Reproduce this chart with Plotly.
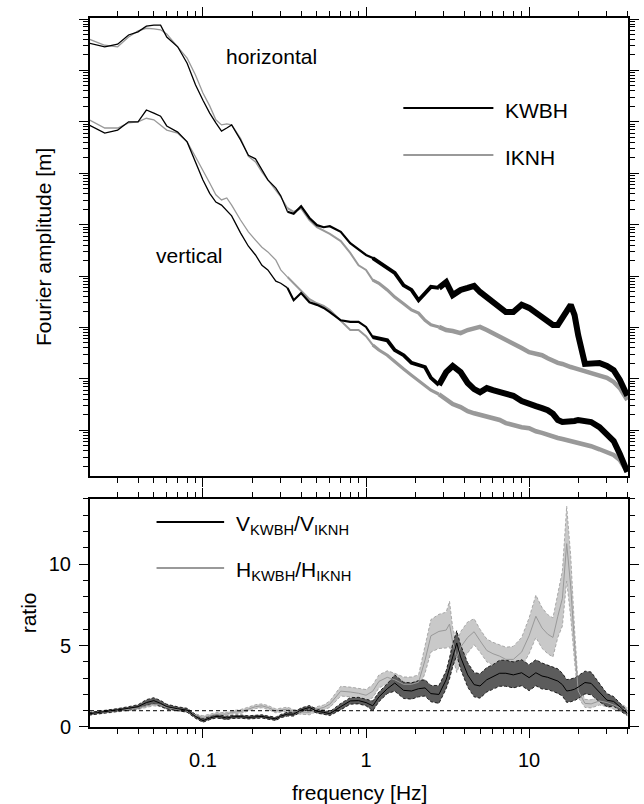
import numpy as np
import plotly.graph_objects as go

# ---------------- data ----------------
# frequency grid for the spectra [Hz]
freq = [0.02, 0.025, 0.03, 0.035, 0.04, 0.045, 0.05, 0.055, 0.06, 0.07, 0.08, 0.09,
        0.1, 0.11, 0.12, 0.13, 0.14, 0.15, 0.17, 0.19, 0.21, 0.23, 0.25, 0.28, 0.3, 0.33,
        0.36, 0.4, 0.45, 0.5, 0.55, 0.6, 0.7, 0.8, 0.9,
        1.0, 1.1, 1.2, 1.35, 1.5, 1.7, 1.9, 2.1, 2.3, 2.5, 2.8, 3.1, 3.4, 3.8, 4.2, 4.6,
        5.0, 5.5, 6.0, 6.6, 7.2, 8.0, 9.0,
        10, 11, 12, 13, 14, 15, 16, 17, 18, 19, 20, 22, 24, 27, 30, 33, 36, 40]

# log10 Fourier amplitude [m]
h_kwbh_log10 = [-1.47, -1.54, -1.49, -1.31, -1.25, -1.14, -1.12, -1.12, -1.35, -1.54, -1.86, -2.28,
                -2.58, -2.83, -3.02, -3.18, -3.12, -3.06, -3.35, -3.65, -3.72, -3.94, -4.13, -4.29,
                -4.44, -4.75, -4.79, -4.64, -4.87, -5.01, -5.05, -5.03, -5.14, -5.36, -5.49,
                -5.59, -5.65, -5.73, -5.84, -5.94, -6.18, -6.27, -6.47, -6.33, -6.21, -6.23, -6.12,
                -6.37, -6.27, -6.23, -6.19, -6.31, -6.41, -6.51, -6.58, -6.70, -6.70, -6.56,
                -6.62, -6.72, -6.82, -6.88, -6.95, -6.95, -6.82, -6.66, -6.56, -6.76, -7.15, -7.71,
                -7.71, -7.69, -7.75, -7.83, -8.02, -8.33]
h_iknh_log10 = [-1.39, -1.51, -1.54, -1.35, -1.23, -1.18, -1.19, -1.21, -1.29, -1.54, -1.76, -2.09,
                -2.44, -2.69, -2.96, -3.06, -3.04, -3.06, -3.32, -3.67, -3.78, -3.98, -4.13, -4.33,
                -4.46, -4.68, -4.75, -4.68, -4.91, -5.05, -5.12, -5.18, -5.32, -5.55, -5.79,
                -5.88, -6.08, -6.14, -6.27, -6.41, -6.54, -6.66, -6.72, -6.86, -6.95, -6.99, -7.05,
                -7.07, -7.11, -7.05, -7.01, -6.99, -7.05, -7.11, -7.17, -7.25, -7.30, -7.40,
                -7.48, -7.50, -7.54, -7.60, -7.65, -7.69, -7.71, -7.75, -7.77, -7.79, -7.81, -7.85,
                -7.87, -7.93, -7.98, -8.06, -8.18, -8.41]
v_kwbh_log10 = [-3.06, -3.22, -3.16, -3.00, -3.00, -2.77, -2.83, -2.89, -3.08, -3.20, -3.39, -3.80,
                -4.13, -4.39, -4.56, -4.62, -4.72, -4.83, -5.16, -5.42, -5.59, -5.79, -5.88, -6.10,
                -6.14, -6.23, -6.47, -6.33, -6.51, -6.56, -6.62, -6.70, -6.86, -6.89, -6.89,
                -6.99, -7.19, -7.21, -7.25, -7.44, -7.54, -7.69, -7.73, -7.77, -7.98, -8.12, -7.87,
                -7.75, -7.87, -8.08, -8.20, -8.26, -8.18, -8.22, -8.26, -8.28, -8.33, -8.43,
                -8.47, -8.53, -8.57, -8.61, -8.68, -8.80, -8.84, -8.84, -8.84, -8.82, -8.80, -8.82,
                -8.84, -8.94, -9.07, -9.21, -9.46, -9.81]
v_iknh_log10 = [-2.96, -3.12, -3.12, -3.02, -3.00, -2.93, -2.96, -3.06, -3.16, -3.22, -3.39, -3.68,
                -3.94, -4.19, -4.42, -4.52, -4.48, -4.62, -4.91, -5.14, -5.30, -5.44, -5.53, -5.69,
                -5.88, -6.02, -6.14, -6.27, -6.45, -6.53, -6.58, -6.66, -6.86, -7.05, -7.05,
                -7.17, -7.34, -7.44, -7.54, -7.67, -7.81, -7.93, -8.04, -8.14, -8.22, -8.30, -8.39,
                -8.49, -8.55, -8.63, -8.67, -8.70, -8.74, -8.76, -8.80, -8.86, -8.90, -8.94,
                -8.96, -9.02, -9.05, -9.09, -9.13, -9.15, -9.17, -9.19, -9.21, -9.23, -9.25, -9.27,
                -9.31, -9.37, -9.42, -9.48, -9.58, -9.81]

# frequency grid for the spectral ratios [Hz]
freq_ratio = [0.02, 0.025, 0.03, 0.035, 0.04, 0.045, 0.05, 0.055, 0.06, 0.07, 0.08, 0.09,
              0.1, 0.11, 0.12, 0.13, 0.14, 0.15, 0.17, 0.19, 0.21, 0.23, 0.25, 0.28, 0.3, 0.33,
              0.36, 0.4, 0.45, 0.5, 0.55, 0.6, 0.7, 0.8, 0.9,
              1.0, 1.1, 1.2, 1.35, 1.5, 1.7, 1.9, 2.1, 2.3, 2.5, 2.8, 3.1, 3.25, 3.4, 3.6, 3.8,
              4.2, 4.6, 5.0, 5.5, 6.0, 6.6, 7.2, 8.0, 9.0,
              10, 11, 12, 13, 14, 15, 16, 17, 18, 19, 20, 22, 24, 27, 30, 33, 36, 40]
ratio_v = [0.81, 0.92, 1.05, 1.15, 1.25, 1.5, 1.62, 1.45, 1.25, 1.12, 1.03, 0.65,
           0.39, 0.55, 0.65, 0.62, 0.55, 0.62, 0.64, 0.59, 0.62, 0.65, 0.58, 0.5, 0.67, 0.79,
           0.79, 1.05, 1.2, 0.97, 0.9, 0.82, 1.25, 1.6, 1.62,
           1.5, 1.3, 1.85, 2.35, 2.7, 2.25, 2.21, 2.35, 2.4, 2.05, 2.0, 2.9, 3.6, 4.4, 5.16, 4.3,
           3.2, 2.6, 2.52, 2.9, 3.08, 3.3, 3.3, 3.2, 3.33,
           3.03, 3.33, 3.13, 3.05, 2.95, 2.82, 2.6, 2.21, 2.25, 2.32, 2.45, 2.73, 2.68, 2.1,
           1.65, 1.57, 1.25, 0.85]
ratio_v_std = [0.08, 0.08, 0.08, 0.1, 0.12, 0.18, 0.18, 0.18, 0.15, 0.12, 0.12, 0.12,
               0.1, 0.1, 0.1, 0.1, 0.1, 0.1, 0.1, 0.1, 0.1, 0.1, 0.1, 0.1, 0.1, 0.12,
               0.12, 0.12, 0.12, 0.12, 0.12, 0.12, 0.2, 0.2, 0.2,
               0.2, 0.3, 0.3, 0.3, 0.5, 0.5, 0.5, 0.5, 0.5, 0.5, 0.55, 0.55, 0.65, 0.7, 0.75, 0.75,
               0.75, 0.75, 0.75, 0.75, 0.75, 0.8, 0.8, 0.8, 0.8,
               0.8, 0.8, 0.8, 0.75, 0.75, 0.75, 0.7, 0.7, 0.7, 0.7, 0.7, 0.7, 0.7, 0.55,
               0.4, 0.3, 0.25, 0.15]
ratio_h = [0.81, 0.92, 1.02, 1.1, 1.15, 1.3, 1.4, 1.35, 1.2, 1.08, 0.98, 0.72,
           0.59, 0.69, 0.78, 0.79, 0.79, 0.9, 0.95, 1.1, 1.25, 1.3, 1.2, 0.99, 1.05, 1.1,
           0.95, 0.92, 0.9, 1.1, 1.2, 1.4, 2.2, 2.15, 2.07,
           1.95, 2.2, 2.8, 3.05, 2.9, 2.62, 2.62, 2.75, 4.1, 5.6, 5.87, 5.95, 6.32, 5.2, 4.25, 4.9,
           5.5, 5.85, 5.3, 4.7, 4.5, 4.35, 4.15, 4.15, 4.6,
           5.6, 6.8, 6.08, 5.7, 5.5, 6.8, 7.9, 11.26, 8.6, 5.0, 2.21, 1.45, 1.42, 1.6,
           1.5, 1.35, 1.2, 1.0]
ratio_h_std = [0.08, 0.08, 0.08, 0.08, 0.08, 0.1, 0.1, 0.1, 0.08, 0.08, 0.08, 0.08,
               0.1, 0.1, 0.1, 0.1, 0.1, 0.1, 0.12, 0.12, 0.12, 0.12, 0.12, 0.12, 0.12, 0.12,
               0.12, 0.15, 0.15, 0.15, 0.15, 0.2, 0.3, 0.3, 0.3,
               0.35, 0.4, 0.4, 0.4, 0.4, 0.45, 0.45, 0.45, 0.8, 1.0, 1.05, 1.1, 1.4, 0.9, 0.9, 0.95,
               0.95, 0.8, 0.7, 0.7, 0.7, 0.7, 0.75, 0.8, 0.9,
               1.1, 1.3, 1.25, 1.2, 1.2, 1.3, 1.7, 2.3, 1.9, 1.0, 0.4, 0.25, 0.25, 0.25,
               0.25, 0.25, 0.25, 0.2]

x_major = [0.1, 1, 10]
x_major_text = ["0.1", "1", "10"]
ratio_major = [0, 5, 10]
ratio_major_text = ["0", "5", "10"]
legend_top = ["KWBH", "IKNH"]
legend_bottom = ["V<sub>KWBH</sub>/V<sub>IKNH</sub>", "H<sub>KWBH</sub>/H<sub>IKNH</sub>"]

# ---------------- styling ----------------
FONT = "Liberation Sans, Arial, Helvetica, sans-serif"
BLACK = "#000000"
GRAY = "#999999"
DARK_BAND = "#5c5c5c"
LIGHT_BAND = "#c9c9c9"

seg_edges = [0.35, 1.2, 3.0]
widths_black = [1.3, 2.2, 3.8, 6.0]
widths_gray = [1.3, 2.0, 3.2, 4.5]

fig = go.Figure()


def add_spectrum(f, logamp, color, widths):
    amp = [10 ** v for v in logamp]
    bounds = [0.0] + seg_edges + [1e9]
    for k in range(len(bounds) - 1):
        lo, hi = bounds[k], bounds[k + 1]
        idx = [i for i, v in enumerate(f) if lo <= v <= hi]
        if not idx:
            continue
        if idx[0] > 0:
            idx = [idx[0] - 1] + idx
        fig.add_trace(go.Scatter(x=[f[i] for i in idx], y=[amp[i] for i in idx],
                                 mode="lines", line=dict(color=color, width=widths[k]),
                                 xaxis="x", yaxis="y", showlegend=False, hoverinfo="skip"))


add_spectrum(freq, h_iknh_log10, GRAY, widths_gray)
add_spectrum(freq, v_iknh_log10, GRAY, widths_gray)
add_spectrum(freq, h_kwbh_log10, BLACK, widths_black)
add_spectrum(freq, v_kwbh_log10, BLACK, widths_black)


def add_band(f, mid, sd, fill, edge, line, lw):
    up = [m + s for m, s in zip(mid, sd)]
    lo = [max(m - s, 0) for m, s in zip(mid, sd)]
    fig.add_trace(go.Scatter(x=list(f) + list(f[::-1]), y=up + lo[::-1], fill="toself",
                             fillcolor=fill, line=dict(width=0), mode="lines",
                             xaxis="x2", yaxis="y2", showlegend=False, hoverinfo="skip"))
    for arr in (up, lo):
        fig.add_trace(go.Scatter(x=f, y=arr, mode="lines",
                                 line=dict(color=edge, width=0.8, dash="3px,2px"),
                                 xaxis="x2", yaxis="y2", showlegend=False, hoverinfo="skip"))
    return dict(x=f, y=mid, mode="lines", line=dict(color=line, width=lw),
                xaxis="x2", yaxis="y2", showlegend=False, hoverinfo="skip")


h_line = add_band(freq_ratio, ratio_h, ratio_h_std, LIGHT_BAND, GRAY, GRAY, 1.0)
v_line = add_band(freq_ratio, ratio_v, ratio_v_std, DARK_BAND, BLACK, BLACK, 1.0)
fig.add_trace(go.Scatter(**h_line))
fig.add_trace(go.Scatter(**v_line))

# ---------------- axes ----------------
x_range = [np.log10(0.0203), np.log10(40.4)]
x_minor = [m * 10.0 ** e for e in range(-2, 2) for m in range(2, 10)]
y_major = [10.0 ** k for k in range(-9, 0)]
y_minor = [m * 10.0 ** k for k in range(-10, 0) for m in range(2, 10)]

common = dict(showline=True, linewidth=2, linecolor=BLACK, mirror="allticks",
              ticks="outside", ticklen=9, tickwidth=1.3, tickcolor=BLACK,
              showgrid=False, zeroline=False,
              tickfont=dict(family=FONT, size=20, color=BLACK))
minor_common = dict(ticks="outside", ticklen=5, tickwidth=1, tickcolor=BLACK, showgrid=False)

TOP_DOM = [0.354, 1.0]
BOT_DOM = [0.0, 0.3216]

fig.update_layout(
    width=644, height=804,
    margin=dict(l=90, r=4.5, t=18, b=77),
    paper_bgcolor="white", plot_bgcolor="white",
    font=dict(family=FONT, size=20, color=BLACK),
    showlegend=False,
    xaxis=dict(type="log", range=x_range, domain=[0, 1], anchor="y",
               tickmode="array", tickvals=x_major, ticktext=x_major_text,
               showticklabels=False,
               minor=dict(tickmode="array", tickvals=x_minor, **minor_common), **common),
    yaxis=dict(type="log", range=[-9.89, -0.98], domain=TOP_DOM, anchor="x",
               tickmode="array", tickvals=y_major, showticklabels=False,
               minor=dict(tickmode="array", tickvals=y_minor, **minor_common), **common),
    xaxis2=dict(type="log", range=x_range, domain=[0, 1], anchor="y2",
                tickmode="array", tickvals=x_major, ticktext=x_major_text,
                ticklabelstandoff=5,
                minor=dict(tickmode="array", tickvals=x_minor, **minor_common), **common),
    yaxis2=dict(range=[0, 14], domain=BOT_DOM, anchor="x2",
                tickmode="array", tickvals=ratio_major, ticktext=ratio_major_text,
                ticklabelstandoff=4,
                minor=dict(tickmode="linear", tick0=0, dtick=1, **minor_common), **common),
)

fig.add_hline(y=1, line=dict(color=BLACK, width=1, dash="4px,3px"), xref="x2", yref="y2")

# ---------------- text / legends ----------------
ann = dict(xref="paper", yref="paper", showarrow=False, font=dict(family=FONT, size=21, color=BLACK))
fig.add_annotation(text="horizontal", x=0.3367, y=0.945, xanchor="center", yanchor="middle", **ann)
fig.add_annotation(text="vertical", x=0.1856, y=0.6657, xanchor="center", yanchor="middle", **ann)
fig.add_annotation(text="Fourier amplitude [m]", x=-0.0874, y=0.677, textangle=-90,
                   xanchor="center", yanchor="middle", **ann)
fig.add_annotation(text="ratio", x=-0.1128, y=0.1608, textangle=-90,
                   xanchor="center", yanchor="middle", **ann)
fig.add_annotation(text="frequency [Hz]", x=0.5005, y=-0.0917, xanchor="center", yanchor="middle", **ann)

# top legend
for label, color, yy in zip(legend_top, [BLACK, GRAY], [0.873, 0.8068]):
    fig.add_shape(type="line", xref="paper", yref="paper", x0=0.5824, x1=0.7498, y0=yy, y1=yy,
                  line=dict(color=color, width=2))
    fig.add_annotation(text=label, x=0.768, y=yy - 0.003, xanchor="left", yanchor="middle", **ann)

# bottom legend
for label, color, yy in zip(legend_bottom, [BLACK, GRAY], [0.2891, 0.2243]):
    fig.add_shape(type="line", xref="paper", yref="paper", x0=0.1237, x1=0.2493, y0=yy, y1=yy,
                  line=dict(color=color, width=2))
    fig.add_annotation(text=label, x=0.2675, y=yy - 0.004, xanchor="left", yanchor="middle", **ann)

fig.write_html("out.html")
